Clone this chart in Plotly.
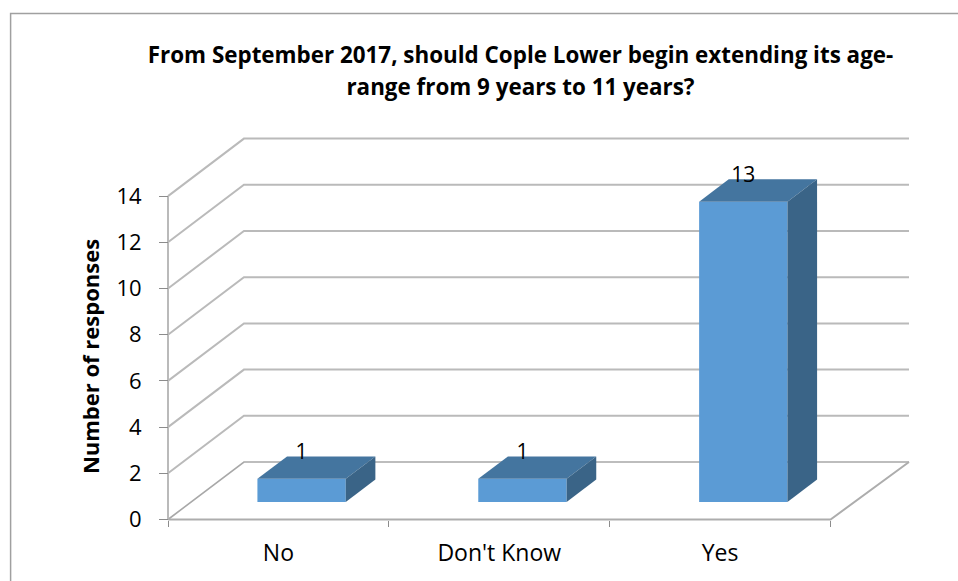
import plotly.graph_objects as go

# ---- data ----
categories = ["No", "Don't Know", "Yes"]
responses = [1, 1, 13]
y_ticks = [0, 2, 4, 6, 8, 10, 12, 14]
title_lines = ["From September 2017, should Cople Lower begin extending its age-",
               "range from 9 years to 11 years?"]
y_title = "Number of responses"

# ---- oblique projection (one unit of depth in axis units) ----
W, H = 958, 581
LEFT, BOTTOM_Y, RIGHT, TOP_Y = 167.5, 519.5, 909.0, 139.0
PAD = 6.0           # plot area extends past the axes so lines are not clipped
PAD_B = 60.5        # extended lower so the y-axis title centres on the 0-14 wall
X_UNIT = 221.0      # px per category
Y_UNIT = 23.1       # px per response
DX = 76.0 / X_UNIT
DY = 57.5 / Y_UNIT
X_END = (RIGHT - LEFT) / X_UNIT
BAR_W = 0.4
D0, D1 = 0.305, 0.695   # bar front / back depth
x_range = [-PAD / X_UNIT, (RIGHT + PAD - LEFT) / X_UNIT]
y_range = [-PAD_B / Y_UNIT, (BOTTOM_Y - TOP_Y + PAD) / Y_UNIT]
plot_w = RIGHT - LEFT + 2 * PAD
plot_h = BOTTOM_Y - TOP_Y + PAD + PAD_B

GRID = "#BABABA"
FLOOR = "#ADADAD"
FRONT = "#5B9BD5"
TOP = "#44759F"
SIDE = "#3A6487"
FONT = "Open Sans"


def no_hover(**kw):
    return go.Scatter(hoverinfo="skip", showlegend=False, **kw)


fig = go.Figure()

# walls and floor
n_cat = len(categories)
for t in y_ticks:
    colour = "#A8A8A8" if t == 0 else GRID
    fig.add_trace(no_hover(x=[0, DX, X_END], y=[t, t + DY, t + DY], mode="lines",
                           line=dict(color=colour, width=2 if t else 1.6)))
fig.add_trace(no_hover(x=[0, 0], y=[0, max(y_ticks)], mode="lines",
                       line=dict(color=GRID, width=2)))
fig.add_trace(no_hover(x=[0, n_cat, X_END], y=[0, 0, DY], mode="lines",
                       line=dict(color=FLOOR, width=2)))

# bars: front faces, then top and side faces
centers = [i + 0.5 + D0 * DX for i in range(n_cat)]
fig.add_trace(go.Bar(x=centers, y=responses, base=[D0 * DY] * n_cat, width=BAR_W,
                     marker=dict(color=FRONT, line=dict(width=0)), showlegend=False,
                     xaxis="x2", yaxis="y2"))
ddx = (D1 - D0) * DX
ddy = (D1 - D0) * DY
for c, v in zip(centers, responses):
    l, r = c - BAR_W / 2, c + BAR_W / 2
    y0, y1 = D0 * DY, D0 * DY + v
    fig.add_trace(no_hover(x=[l, r, r + ddx, l + ddx, l], y=[y1, y1, y1 + ddy, y1 + ddy, y1],
                           mode="lines", fill="toself", fillcolor=TOP, line=dict(width=0),
                           xaxis="x2", yaxis="y2"))
    fig.add_trace(no_hover(x=[r, r + ddx, r + ddx, r, r], y=[y0, y0 + ddy, y1 + ddy, y1, y0],
                           mode="lines", fill="toself", fillcolor=SIDE, line=dict(width=0),
                           xaxis="x2", yaxis="y2"))

# data labels
fig.add_trace(no_hover(x=centers, y=[D1 * DY + v + 0.1 for v in responses],
                       mode="text", text=[str(v) for v in responses],
                       textposition="middle center",
                       textfont=dict(family=FONT, size=21, color="black"),
                       xaxis="x2", yaxis="y2", cliponaxis=False))

fig.update_layout(
    width=W, height=H, autosize=False, paper_bgcolor="white", plot_bgcolor="rgba(0,0,0,0)",
    margin=dict(l=LEFT - PAD, r=W - RIGHT - PAD, t=TOP_Y - PAD, b=H - BOTTOM_Y - PAD_B, autoexpand=False),
    showlegend=False, hovermode=False,
    title=dict(
        text="<br>".join('<span style="font-size:22.4px">%s</span>' % s for s in title_lines),
        font=dict(family=FONT, size=24.6, color="black", weight="bold"),
        x=(148 + 893) / 2 / W, xanchor="center", y=1 - 63 / H, yanchor="top",
    ),
    xaxis=dict(range=x_range, tickmode="array", tickvals=[i + 0.5 for i in range(n_cat)],
               ticktext=categories, ticks="", showgrid=False, zeroline=False, showline=False,
               tickfont=dict(family=FONT, size=23, color="black"), ticklabelstandoff=17,
               anchor="free", position=PAD_B / plot_h,
               minor=dict(tickmode="array", tickvals=list(range(n_cat + 1)), ticks="outside",
                          ticklen=6, tickcolor="#8C8C8C", tickwidth=1, showgrid=False)),
    yaxis=dict(range=y_range, tickmode="array", tickvals=y_ticks, ticks="outside", ticklen=9,
               tickcolor="#8C8C8C", tickwidth=1, showgrid=False, zeroline=False, showline=False,
               tickfont=dict(family=FONT, size=22, color="black"), ticklabelstandoff=13,
               anchor="free", position=PAD / plot_w,
               title=dict(text="<b>%s</b>" % y_title, font=dict(family=FONT, size=22, color="black"),
                          standoff=9)),
    xaxis2=dict(range=x_range, overlaying="x", anchor="y2", visible=False),
    yaxis2=dict(range=y_range, overlaying="y", anchor="x2", visible=False),
)

# chart area border (left and top edges only are in view)
px = lambda p: (p - (LEFT - PAD)) / plot_w
py = lambda p: (BOTTOM_Y + PAD_B - p) / plot_h
fig.add_shape(type="path", xref="paper", yref="paper",
              path=f"M {px(10)} {py(590)} L {px(10)} {py(13.5)} L {px(965)} {py(13.5)}",
              line=dict(color="#A0A0A0", width=1.5), layer="below")

fig.write_html("out.html", config={"displayModeBar": False},
               post_script="document.body.style.margin='0';")
